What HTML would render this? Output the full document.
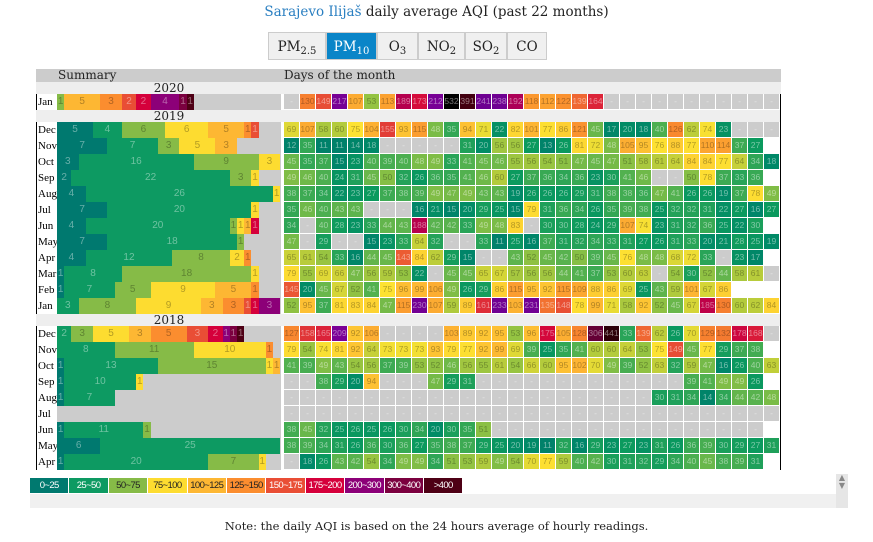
<!DOCTYPE html>
<html><head><meta charset="utf-8">
<style>
body{margin:0;width:873px;height:542px;background:#fff;position:relative;overflow:hidden;font-family:"DejaVu Serif","Liberation Serif",serif;}
.a{position:absolute;}
.t{font-size:13.5px;top:4px;left:0;width:873px;text-align:center;color:#222;white-space:nowrap;}
.t span{color:#2a7fc1}
.tab{top:32px;height:28px;border:1px solid #ccc;background:#f0f0f0;font-size:13.5px;line-height:28px;text-align:center;color:#222;box-sizing:border-box;}
.tab sub{font-size:10px;vertical-align:-3px;line-height:0}
.on{background:#0a85c8;color:#fff;}
.hd{background:#ccc;height:13px;font-size:12px;line-height:13px;color:#222;}
.yr{background:#eee;height:12px;font-size:12px;line-height:12px;color:#222;text-align:center;}
.m{font-family:"Liberation Serif",serif;font-size:11px;line-height:16px;color:#000;height:16px;width:19px;border-left:1px solid #000;padding-left:1px;z-index:2;background:#fff;overflow:hidden;white-space:nowrap;}
.c{height:15px;width:15px;font-family:"Liberation Sans",sans-serif;font-size:8.5px;line-height:15px;text-align:center;}
.s{height:16px;font-family:"Liberation Sans",sans-serif;font-size:10px;line-height:16px;text-align:center;overflow:hidden;}
.lg{top:478px;height:15px;font-family:"Liberation Sans",sans-serif;font-size:9.5px;letter-spacing:-0.6px;line-height:15px;text-align:center;color:#fff;white-space:nowrap;overflow:hidden;}
</style></head><body>
<div class="a t"><span>Sarajevo Ilijaš</span> daily average AQI (past 22 months)</div>
<div class="a tab" style="left:268px;width:58px">PM<sub>2.5</sub></div>
<div class="a tab on" style="left:326px;width:51px">PM<sub>10</sub></div>
<div class="a tab" style="left:377px;width:41px">O<sub>3</sub></div>
<div class="a tab" style="left:418px;width:47px">NO<sub>2</sub></div>
<div class="a tab" style="left:465px;width:42px">SO<sub>2</sub></div>
<div class="a tab" style="left:507px;width:40px">CO</div>
<div class="a hd" style="left:36px;top:69px;width:745px"></div>
<div class="a hd" style="left:58px;top:69px">Summary</div>
<div class="a hd" style="left:284px;top:69px">Days of the month</div>
<div id="g"></div>
<div class="a" style="left:780px;top:94px;width:1px;height:376px;background:#000"></div>
<div class="a" style="left:30px;top:494px;width:806px;height:14px;background:#f0f0f0"></div>
<div class="a" style="left:836px;top:474px;width:12px;height:34px;background:#e6e6e6;font-size:8px;color:#888;text-align:center;line-height:8px">▲<br>▼</div>
<div class="a" style="left:0;top:519px;width:873px;text-align:center;font-size:11.5px;color:#222">Note: the daily AQI is based on the 24 hours average of hourly readings.</div>
<script>
var D=[
["2020",null],
["Jan","-,130,149,217,107,53,113,189,173,212,532,391,241,238,192,118,112,122,139,164,-,-,-,-,-,-,-,-,-,-,-"],
["2019",null],
["Dec","69,107,58,60,75,104,155,93,115,48,35,94,71,22,82,101,77,86,121,45,17,20,18,40,126,62,74,23,-,-,-"],
["Nov","12,35,11,11,14,18,-,-,-,-,-,31,20,56,56,27,13,26,81,72,48,105,95,76,88,77,110,114,37,27"],
["Oct","45,35,37,15,23,40,39,40,48,49,33,41,45,46,55,56,54,51,47,45,47,51,58,61,64,84,84,77,64,34,18"],
["Sep","49,46,40,24,31,45,50,32,26,36,35,41,46,60,27,37,36,34,36,23,30,41,46,-,-,50,78,37,33,36"],
["Aug","38,37,34,22,23,27,37,38,39,49,47,49,43,43,19,26,26,26,29,31,38,38,36,47,41,26,26,19,37,78,49"],
["Jul","35,46,40,43,43,-,-,-,16,21,15,20,29,25,15,79,31,36,34,26,35,39,38,25,32,32,31,22,27,16,27"],
["Jun","34,-,40,28,23,33,44,43,188,42,42,33,49,48,83,-,30,30,28,24,29,107,74,23,31,32,36,25,22,30"],
["May","47,-,29,-,-,15,23,33,64,32,-,-,33,11,25,16,37,31,32,34,33,31,27,26,31,33,20,21,28,25,19"],
["Apr","65,61,54,33,16,44,45,143,84,62,29,15,-,-,43,52,45,42,50,39,45,76,48,48,68,72,33,-,23,17"],
["Mar","79,55,69,66,47,56,59,53,22,-,45,45,65,67,57,56,56,44,41,37,53,60,63,-,54,30,52,44,58,61,-"],
["Feb","145,20,45,67,52,41,75,96,99,106,49,26,29,86,115,95,92,115,109,88,86,69,25,43,59,101,67,86"],
["Jan","52,95,37,81,83,84,47,115,230,107,59,89,161,233,103,231,135,148,78,99,71,58,92,52,45,67,185,130,60,62,84"],
["2018",null],
["Dec","127,158,165,209,92,106,-,-,-,-,103,89,92,95,53,96,175,105,128,306,441,33,139,62,26,70,129,132,178,168,-"],
["Nov","79,54,74,81,92,64,73,73,73,93,79,77,92,99,69,39,25,35,41,60,60,64,53,75,149,45,77,29,37,38"],
["Oct","41,39,49,43,54,56,37,39,53,52,46,56,55,61,54,66,60,95,102,70,49,39,52,63,32,59,47,16,26,40,63"],
["Sep","-,-,38,29,20,94,-,-,-,47,29,31,-,-,-,-,-,-,-,-,-,-,-,-,-,39,41,49,49,26"],
["Aug","-,-,-,-,-,-,-,-,-,-,-,-,-,-,-,-,-,-,-,-,-,-,-,30,31,34,14,34,44,42,48"],
["Jul","-,-,-,-,-,-,-,-,-,-,-,-,-,-,-,-,-,-,-,-,-,-,-,-,-,-,-,-,-,-,-"],
["Jun","38,45,32,25,26,25,26,30,34,20,30,35,51,-,-,-,-,-,-,-,-,-,-,-,-,-,-,-,-,-"],
["May","38,39,34,31,26,36,30,36,27,35,38,37,29,25,20,19,11,32,16,29,23,27,23,31,26,36,39,30,29,27,31"],
["Apr","-,18,26,43,42,54,34,49,49,34,51,53,59,49,54,70,77,59,40,42,30,31,32,29,34,40,45,38,39,31"]
];
var ST=[[0,"#00766e"],[18,"#008868"],[27,"#0b9a5e"],[40,"#4caf50"],[50,"#86bf45"],[62,"#bccd3a"],[75,"#fde232"],[100,"#fdb733"],[125,"#fa8c2e"],[150,"#e64a35"],[175,"#d4073b"],[190,"#b3004f"],[208,"#7a0096"],[250,"#6a0090"],[300,"#660038"],[400,"#40000c"],[530,"#000000"]];
function h(c){return [parseInt(c.substr(1,2),16),parseInt(c.substr(3,2),16),parseInt(c.substr(5,2),16)];}
function col(v){if(v>=530)return "#000";for(var i=0;i<ST.length-1;i++){if(v<ST[i+1][0]){var a=h(ST[i][1]),b=h(ST[i+1][1]),f=(v-ST[i][0])/(ST[i+1][0]-ST[i][0]);return "rgb("+a.map(function(x,k){return Math.round(x+(b[k]-x)*f)}).join(",")+")";}}return "#000";}
function tc(v){return (v>=50&&v<135)?"rgba(0,0,0,.3)":"rgba(255,255,255,.45)";}
var CB=[25,50,75,100,125,150,175,200,300,400,1e9];
var CC=["#00796f","#0d9a62","#86bb47","#fddc30","#fdb733","#fb8d2f","#e94e35","#d5003b","#8c0078","#7b003f","#4e0015"];
var LBL=["0~25","25~50","50~75","75~100","100~125","125~150","150~175","175~200","200~300","300~400",">400"];
var out="",y=82;
D.forEach(function(r){
 if(r[1]===null){out+='<div class="a yr" style="left:36px;top:'+y+'px;width:745px"></div><div class="a yr" style="left:57px;top:'+y+'px;width:224px;background:none">'+r[0]+'</div>';y+=12;return;}
 out+='<div class="a m" style="left:36px;top:'+y+'px">'+r[0]+'</div>';
 var vals=r[1].split(","),cnt=[0,0,0,0,0,0,0,0,0,0,0];
 vals.forEach(function(s,i){var x=284+i*16;
  if(s=="-"){out+='<div class="c a" style="left:'+x+'px;top:'+y+'px;background:#ccc;color:#e4e4e4">-</div>';return;}
  var v=+s;for(var k=0;k<11;k++)if(v<CB[k]){cnt[k]++;break;}
  out+='<div class="c a" style="left:'+x+'px;top:'+y+'px;background:'+col(v)+';color:'+tc(v)+'">'+s+'</div>';});
 var sx=57,u=7.2;
 out+='<div class="a s" style="left:57px;top:'+y+'px;width:224px;background:#ccc"></div>';
 cnt.forEach(function(n,k){if(!n)return;var w=n*u;
  out+='<div class="a s" style="left:'+sx.toFixed(1)+'px;top:'+y+'px;width:'+w.toFixed(1)+'px;background:'+CC[k]+';color:'+((k>=2&&k<=5)?"rgba(0,0,0,.3)":"rgba(255,255,255,.4)")+'">'+n+'</div>';sx+=w;});
 y+=16;});
LBL.forEach(function(l,k){out+='<div class="a lg" style="left:'+(30+k*39.4).toFixed(1)+'px;width:38.4px;background:'+CC[k]+';color:'+((k>=2&&k<=5)?"#222":"#fff")+'">'+l+'</div>';});
document.getElementById("g").innerHTML=out;
</script>
</body></html>
